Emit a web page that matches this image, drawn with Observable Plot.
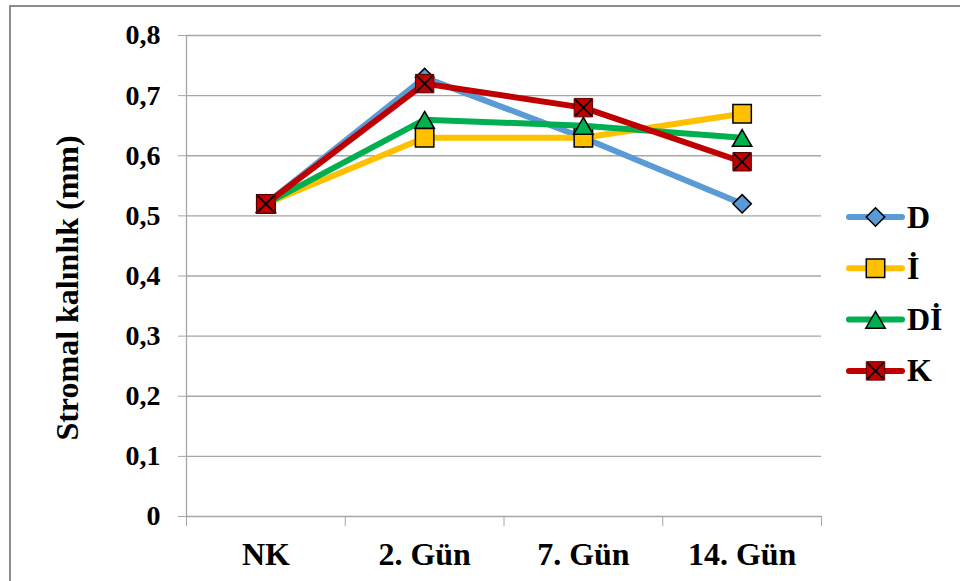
<!DOCTYPE html>
<html>
<head>
<meta charset="utf-8">
<script src="https://cdn.jsdelivr.net/npm/d3@7"></script>
<script src="https://cdn.jsdelivr.net/npm/@observablehq/plot@0.6"></script>
<style>
  html, body { margin: 0; padding: 0; background: #fff; }
  #wrap { position: relative; width: 960px; height: 581px; overflow: hidden; }
  #frame { position: absolute; left: 9px; top: 5px; right: -20px; bottom: -20px;
           border-top: 2px solid #8c8c8c; border-left: 2px solid #8c8c8c; }
  #chart, #legend { position: absolute; left: 0; top: 0; }
</style>
</head>
<body>
<div id="wrap">
  <div id="frame"></div>
  <div id="chart"></div>
  <svg id="legend" width="960" height="581"></svg>
</div>
<script>
// Time points on the x axis
const categories = ["NK", "2. Gün", "7. Gün", "14. Gün"];

// Series names (legend order)
const seriesNames = ["D", "İ", "Dİ", "K"];

// Stromal thickness (mm) per series
const valuesD  = [0.52, 0.73, 0.63, 0.52];
const valuesI  = [0.52, 0.63, 0.63, 0.67];
const valuesDI = [0.52, 0.66, 0.65, 0.63];
const valuesK  = [0.52, 0.72, 0.68, 0.59];

// Y axis ticks
const yTicks = [0, 0.1, 0.2, 0.3, 0.4, 0.5, 0.6, 0.7, 0.8];

const seriesValues = [valuesD, valuesI, valuesDI, valuesK];
const colors = ["#5B9BD5", "#FFC000", "#00B050", "#C00000"];
const gridColor = "#a6a6a6";
const font = "'Liberation Serif', 'Times New Roman', serif";

// Long-format rows; categories sit at the centre of unit-wide slots
const rows = seriesNames.flatMap((s, si) =>
  categories.map((c, ci) => ({series: s, si, category: c, pos: ci + 0.5, value: seriesValues[si][ci]}))
);
const bySeries = (name) => rows.filter(d => d.series === name);

const yFormat = d => d === 0 ? "0" : d3.format(".1f")(d).replace(".", ",");
const slotEdges = d3.range(categories.length + 1);
const slotCentres = categories.map((c, i) => i + 0.5);

// Marker drawing for each series
function markers(name, i) {
  const data = bySeries(name);
  const common = {x: "pos", y: "value", stroke: "#000", strokeWidth: 1.5};
  if (name === "D") return [Plot.dot(data, {...common, symbol: "diamond2", r: 8.3, fill: colors[i]})];
  if (name === "İ") return [Plot.dot(data, {...common, symbol: "square", r: 10.4, fill: colors[i]})];
  if (name === "Dİ") return [Plot.dot(data, {...common, symbol: "triangle", r: 7.2, dy: 3, fill: colors[i]})];
  return [
    Plot.dot(data, {...common, symbol: "square", r: 10.4, fill: colors[i], stroke: "#5a0000", strokeWidth: 1}),
    Plot.dot(data, {...common, symbol: "times", r: 7.4, fill: "none", strokeWidth: 1.8})
  ];
}

const chart = Plot.plot({
  width: 960,
  height: 581,
  marginLeft: 186,
  marginRight: 139,
  marginTop: 35,
  marginBottom: 65,
  style: {fontFamily: font, fontWeight: "bold", fontSize: "32px", color: "#000", background: "transparent", overflow: "visible"},
  x: {domain: [0, categories.length]},
  y: {domain: [0, 0.8]},
  marks: [
    Plot.ruleY(yTicks, {stroke: gridColor, strokeWidth: 1.3}),
    Plot.ruleX([0], {stroke: gridColor, strokeWidth: 1.3}),
    Plot.axisY({ticks: yTicks, tickSize: 8, tickPadding: 18, tickFormat: yFormat, stroke: gridColor,
                fontSize: 28, label: null}),
    Plot.axisX({ticks: slotEdges, tickSize: 10, tickFormat: () => "", stroke: gridColor, label: null}),
    Plot.axisX({ticks: slotCentres, tickSize: 0, tickPadding: 26,
                tickFormat: d => categories[Math.floor(d)], label: null}),
    Plot.text(["Stromal kalınlık (mm)"], {frameAnchor: "left", textAnchor: "middle", lineAnchor: "middle",
                dx: -119, dy: 12, rotate: -90, fontSize: 32, fontWeight: "bold", fill: "#000"}),
    ...seriesNames.flatMap((name, i) => [
      Plot.line(bySeries(name), {x: "pos", y: "value", stroke: colors[i], strokeWidth: 6,
                                 strokeLinejoin: "round", strokeLinecap: "round"}),
      ...markers(name, i)
    ])
  ]
});
document.getElementById("chart").appendChild(chart);

// Legend on the right
const legend = d3.select("#legend");
const sym = {D: d3.symbolDiamond2, "İ": d3.symbolSquare, "Dİ": d3.symbolTriangle, K: d3.symbolSquare};
const symSize = {D: Math.PI * 8.3 * 8.3, "İ": Math.PI * 10.4 * 10.4, "Dİ": Math.PI * 7.2 * 7.2, K: Math.PI * 10.4 * 10.4};
seriesNames.forEach((name, i) => {
  const y = 217 + i * 51.3;
  const g = legend.append("g");
  g.append("line").attr("x1", 849).attr("x2", 902).attr("y1", y).attr("y2", y)
    .attr("stroke", colors[i]).attr("stroke-width", 6).attr("stroke-linecap", "round");
  g.append("path").attr("transform", `translate(875.5,${y + (name === "Dİ" ? 3 : 0)})`)
    .attr("d", d3.symbol(sym[name], symSize[name])())
    .attr("fill", colors[i]).attr("stroke", name === "K" ? "#5a0000" : "#000")
    .attr("stroke-width", name === "K" ? 1 : 1.5);
  if (name === "K") {
    g.append("path").attr("transform", `translate(875.5,${y})`)
      .attr("d", d3.symbol(d3.symbolTimes, Math.PI * 7.4 * 7.4)())
      .attr("fill", "none").attr("stroke", "#000").attr("stroke-width", 1.8);
  }
  g.append("text").attr("x", 907).attr("y", y).attr("dy", "0.33em")
    .attr("font-family", font).attr("font-weight", "bold").attr("font-size", 32)
    .attr("fill", "#000").text(name);
});
</script>
</body>
</html>
